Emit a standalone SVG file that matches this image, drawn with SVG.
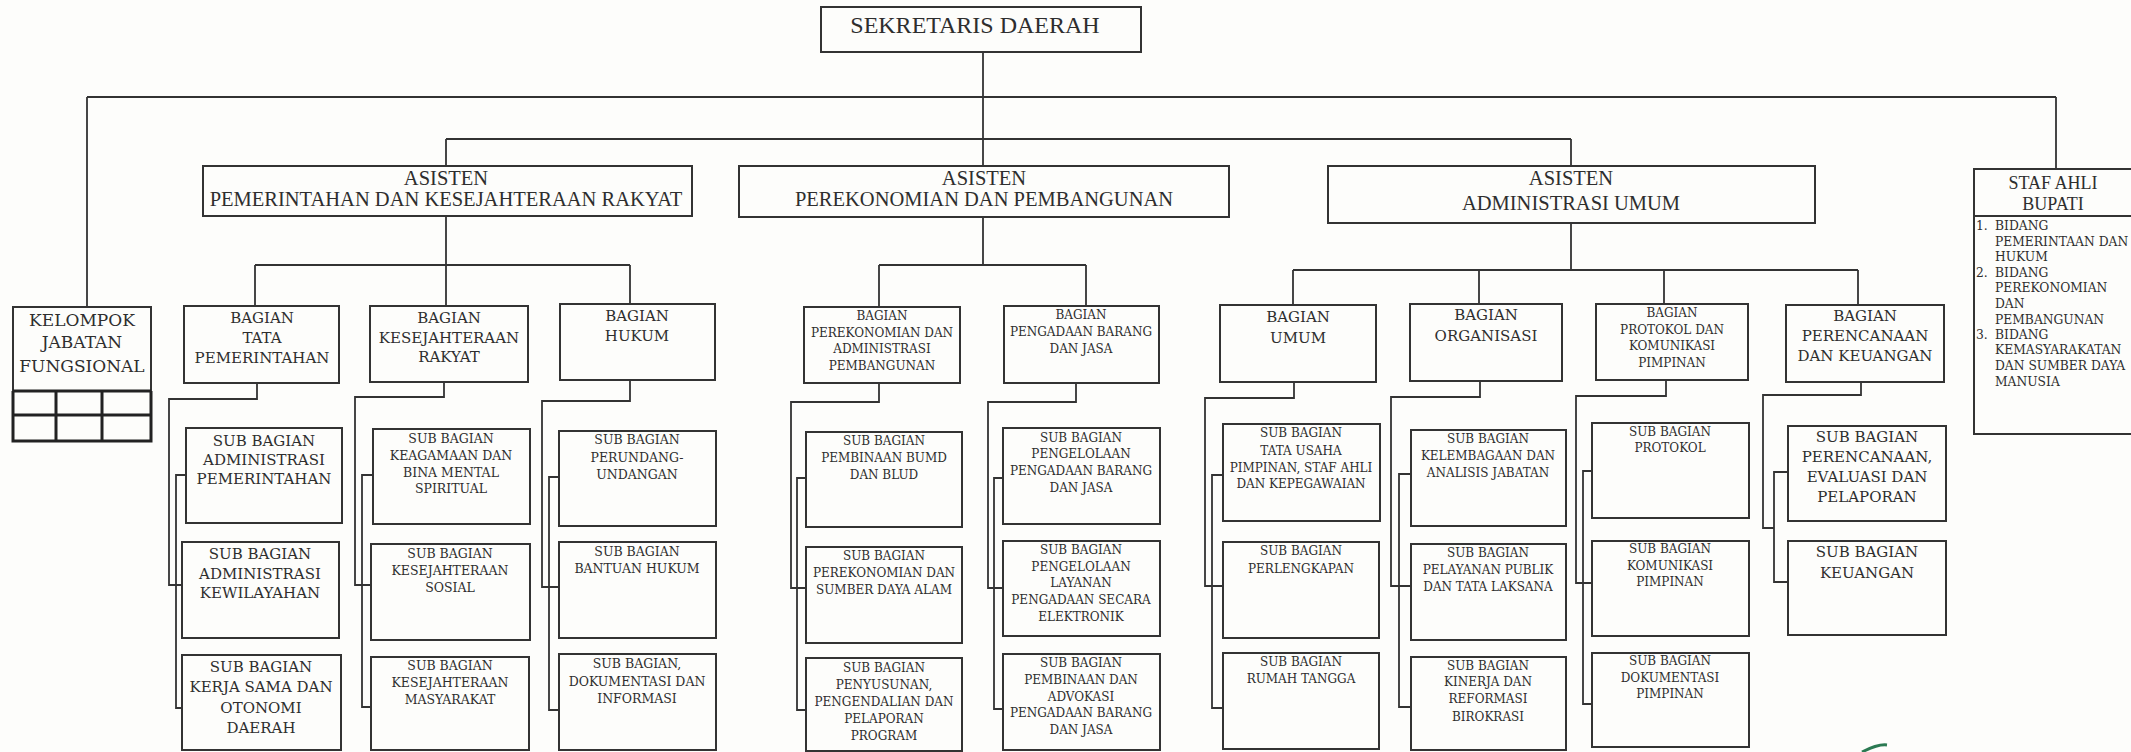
<svg xmlns="http://www.w3.org/2000/svg" width="2131" height="752" viewBox="0 0 2131 752">
<style>
.bg{fill:#fdfdfb}
.box{fill:none;stroke:#333;stroke-width:2}
.thick{fill:none;stroke:#222;stroke-width:3}
.ln{fill:none;stroke:#333;stroke-width:1.8}
text{fill:#2e2e2e;text-anchor:middle}
.h{font-family:"Liberation Serif","Times New Roman",serif}
.s{font-family:"DejaVu Serif","Liberation Serif",serif}
.f20{font-size:20.5px}
.f22{font-size:24px}
.f18{font-size:18px}
.f17{font-size:17px}
.f15{font-size:15px}
.f125{font-size:12.5px}
.f12{font-size:12px}
.f115{font-size:12.3px}
.l{text-anchor:start}
</style>
<rect class="bg" x="0" y="0" width="2131" height="752"/>

<g id="connectors">
<path class="ln" d="M983,52 V166"/>
<path class="ln" d="M87,97 H2056 M87,97 V307 M2056,97 V169"/>
<path class="ln" d="M446,139 H1571 M446,139 V166 M1571,139 V166"/>
<path class="ln" d="M446,216 V306 M255,265 H630 M255,265 V306 M630,265 V304"/>
<path class="ln" d="M983,217 V265 M879,265 H1086 M879,265 V307 M1086,265 V306"/>
<path class="ln" d="M1571,223 V270 M1293,270 H1858 M1293,270 V305 M1479,270 V304 M1664,270 V304 M1858,270 V305"/>
<path class="ln" d="M257,383 V399 H169 V585 H182 M186,475 H176 V708 H182"/>
<path class="ln" d="M444,382 V397 H355 V585 H371 M373,475 H362 V707 H371"/>
<path class="ln" d="M630,380 V401 H542 V587 H559 M559,477 H549 V710 H559"/>
<path class="ln" d="M879,383 V402 H791 V588 H806 M806,478 H797 V710 H806"/>
<path class="ln" d="M1076,383 V402 H988 V588 H1003 M1003,478 H994 V709 H1003"/>
<path class="ln" d="M1294,382 V398 H1205 V586 H1223 M1223,475 H1212 V708 H1223"/>
<path class="ln" d="M1480,381 V397 H1391 V586 H1411 M1411,474 H1399 V707 H1411"/>
<path class="ln" d="M1666,380 V396 H1576 V583 H1592 M1592,471 H1583 V704 H1592"/>
<path class="ln" d="M1861,382 V395 H1763 V528 H1774 M1788,472 H1774 V582 H1788"/>
</g>

<g id="sekda">
<rect class="box" x="821" y="7" width="320" height="45"/>
<text class="h f22" x="975" y="33">SEKRETARIS DAERAH</text>
</g>

<g id="asisten-pemerintahan">
<rect class="box" x="203" y="166" width="489" height="50"/>
<text class="h f20" x="446" y="185">ASISTEN</text>
<text class="h f20" x="446" y="206">PEMERINTAHAN DAN KESEJAHTERAAN RAKYAT</text>
</g>
<g id="asisten-perekonomian">
<rect class="box" x="739" y="166" width="490" height="51"/>
<text class="h f20" x="984" y="185">ASISTEN</text>
<text class="h f20" x="984" y="206">PEREKONOMIAN DAN PEMBANGUNAN</text>
</g>
<g id="asisten-administrasi">
<rect class="box" x="1328" y="166" width="487" height="57"/>
<text class="h f20" x="1571" y="185">ASISTEN</text>
<text class="h f20" x="1571" y="210">ADMINISTRASI UMUM</text>
</g>

<g id="staf-ahli">
<rect class="box" x="1974" y="169" width="170" height="265"/>
<line class="box" x1="1974" y1="216" x2="2144" y2="216"/>
<text class="h f18" x="2053" y="189">STAF AHLI</text>
<text class="h f18" x="2053" y="210">BUPATI</text>
<g class="s f115">
<text class="l" x="1976" y="230">1.</text>
<text class="l" x="1995" y="230">BIDANG</text>
<text class="l" x="1995" y="246">PEMERINTAAN DAN</text>
<text class="l" x="1995" y="261">HUKUM</text>
<text class="l" x="1976" y="277">2.</text>
<text class="l" x="1995" y="277">BIDANG</text>
<text class="l" x="1995" y="292">PEREKONOMIAN</text>
<text class="l" x="1995" y="308">DAN</text>
<text class="l" x="1995" y="324">PEMBANGUNAN</text>
<text class="l" x="1976" y="339">3.</text>
<text class="l" x="1995" y="339">BIDANG</text>
<text class="l" x="1995" y="354">KEMASYARAKATAN</text>
<text class="l" x="1995" y="370">DAN SUMBER DAYA</text>
<text class="l" x="1995" y="386">MANUSIA</text>
</g>
</g>

<g id="kelompok-jabatan-fungsional">
<rect class="box" x="13" y="307" width="138" height="134"/>
<path class="thick" d="M13,391 H151 M13,415 H151 M56,391 V441 M102,391 V441 M13,391 V441 H151 V391"/>
<text class="s f17" x="82" y="326">KELOMPOK</text>
<text class="s f17" x="82" y="348">JABATAN</text>
<text class="s f17" x="82" y="372">FUNGSIONAL</text>
</g>

<g id="bagian-tata-pemerintahan">
<rect class="box" x="184" y="306" width="155" height="77"/>
<text class="s f15" x="262" y="323">BAGIAN</text>
<text class="s f15" x="262" y="343">TATA</text>
<text class="s f15" x="262" y="363">PEMERINTAHAN</text>
</g>
<g id="bagian-kesejahteraan-rakyat">
<rect class="box" x="370" y="306" width="158" height="76"/>
<text class="s f15" x="449" y="323">BAGIAN</text>
<text class="s f15" x="449" y="343">KESEJAHTERAAN</text>
<text class="s f15" x="449" y="362">RAKYAT</text>
</g>
<g id="bagian-hukum">
<rect class="box" x="560" y="304" width="155" height="76"/>
<text class="s f15" x="637" y="321">BAGIAN</text>
<text class="s f15" x="637" y="341">HUKUM</text>
</g>
<g id="bagian-perekonomian">
<rect class="box" x="804" y="307" width="156" height="76"/>
<text class="s f12" x="882" y="320">BAGIAN</text>
<text class="s f12" x="882" y="337">PEREKONOMIAN DAN</text>
<text class="s f12" x="882" y="353">ADMINISTRASI</text>
<text class="s f12" x="882" y="370">PEMBANGUNAN</text>
</g>
<g id="bagian-pengadaan">
<rect class="box" x="1004" y="306" width="155" height="77"/>
<text class="s f12" x="1081" y="319">BAGIAN</text>
<text class="s f12" x="1081" y="336">PENGADAAN BARANG</text>
<text class="s f12" x="1081" y="353">DAN JASA</text>
</g>
<g id="bagian-umum">
<rect class="box" x="1220" y="305" width="156" height="77"/>
<text class="s f15" x="1298" y="322">BAGIAN</text>
<text class="s f15" x="1298" y="343">UMUM</text>
</g>
<g id="bagian-organisasi">
<rect class="box" x="1410" y="304" width="152" height="77"/>
<text class="s f15" x="1486" y="320">BAGIAN</text>
<text class="s f15" x="1486" y="341">ORGANISASI</text>
</g>
<g id="bagian-protokol">
<rect class="box" x="1596" y="304" width="152" height="76"/>
<text class="s f12" x="1672" y="317">BAGIAN</text>
<text class="s f12" x="1672" y="334">PROTOKOL DAN</text>
<text class="s f12" x="1672" y="350">KOMUNIKASI</text>
<text class="s f12" x="1672" y="367">PIMPINAN</text>
</g>
<g id="bagian-perencanaan">
<rect class="box" x="1786" y="305" width="158" height="77"/>
<text class="s f15" x="1865" y="321">BAGIAN</text>
<text class="s f15" x="1865" y="341">PERENCANAAN</text>
<text class="s f15" x="1865" y="361">DAN KEUANGAN</text>
</g>

<g id="sub-adm-pemerintahan">
<rect class="box" x="186" y="428" width="156" height="95"/>
<text class="s f15" x="264" y="446">SUB BAGIAN</text>
<text class="s f15" x="264" y="465">ADMINISTRASI</text>
<text class="s f15" x="264" y="484">PEMERINTAHAN</text>
</g>
<g id="sub-adm-kewilayahan">
<rect class="box" x="182" y="542" width="157" height="96"/>
<text class="s f15" x="260" y="559">SUB BAGIAN</text>
<text class="s f15" x="260" y="579">ADMINISTRASI</text>
<text class="s f15" x="260" y="598">KEWILAYAHAN</text>
</g>
<g id="sub-kerja-sama">
<rect class="box" x="182" y="655" width="159" height="95"/>
<text class="s f15" x="261" y="672">SUB BAGIAN</text>
<text class="s f15" x="261" y="692">KERJA SAMA DAN</text>
<text class="s f15" x="261" y="713">OTONOMI</text>
<text class="s f15" x="261" y="733">DAERAH</text>
</g>

<g id="sub-keagamaan">
<rect class="box" x="373" y="429" width="157" height="95"/>
<text class="s f125" x="451" y="443">SUB BAGIAN</text>
<text class="s f125" x="451" y="460">KEAGAMAAN DAN</text>
<text class="s f125" x="451" y="477">BINA MENTAL</text>
<text class="s f125" x="451" y="493">SPIRITUAL</text>
</g>
<g id="sub-kesejahteraan-sosial">
<rect class="box" x="371" y="544" width="159" height="96"/>
<text class="s f125" x="450" y="558">SUB BAGIAN</text>
<text class="s f125" x="450" y="575">KESEJAHTERAAN</text>
<text class="s f125" x="450" y="592">SOSIAL</text>
</g>
<g id="sub-kesejahteraan-masyarakat">
<rect class="box" x="371" y="657" width="158" height="93"/>
<text class="s f125" x="450" y="670">SUB BAGIAN</text>
<text class="s f125" x="450" y="687">KESEJAHTERAAN</text>
<text class="s f125" x="450" y="704">MASYARAKAT</text>
</g>

<g id="sub-perundang-undangan">
<rect class="box" x="559" y="431" width="157" height="95"/>
<text class="s f125" x="637" y="444">SUB BAGIAN</text>
<text class="s f125" x="637" y="462">PERUNDANG-</text>
<text class="s f125" x="637" y="479">UNDANGAN</text>
</g>
<g id="sub-bantuan-hukum">
<rect class="box" x="559" y="542" width="157" height="96"/>
<text class="s f125" x="637" y="556">SUB BAGIAN</text>
<text class="s f125" x="637" y="573">BANTUAN HUKUM</text>
</g>
<g id="sub-dokumentasi-informasi">
<rect class="box" x="559" y="654" width="157" height="96"/>
<text class="s f125" x="637" y="668">SUB BAGIAN,</text>
<text class="s f125" x="637" y="686">DOKUMENTASI DAN</text>
<text class="s f125" x="637" y="703">INFORMASI</text>
</g>

<g id="sub-pembinaan-bumd">
<rect class="box" x="806" y="432" width="156" height="95"/>
<text class="s f12" x="884" y="445">SUB BAGIAN</text>
<text class="s f12" x="884" y="462">PEMBINAAN BUMD</text>
<text class="s f12" x="884" y="479">DAN BLUD</text>
</g>
<g id="sub-perekonomian-sda">
<rect class="box" x="806" y="547" width="156" height="96"/>
<text class="s f12" x="884" y="560">SUB BAGIAN</text>
<text class="s f12" x="884" y="577">PEREKONOMIAN DAN</text>
<text class="s f12" x="884" y="594">SUMBER DAYA ALAM</text>
</g>
<g id="sub-penyusunan">
<rect class="box" x="806" y="658" width="156" height="93"/>
<text class="s f12" x="884" y="672">SUB BAGIAN</text>
<text class="s f12" x="884" y="689">PENYUSUNAN,</text>
<text class="s f12" x="884" y="706">PENGENDALIAN DAN</text>
<text class="s f12" x="884" y="723">PELAPORAN</text>
<text class="s f12" x="884" y="740">PROGRAM</text>
</g>

<g id="sub-pengelolaan-pengadaan">
<rect class="box" x="1003" y="428" width="157" height="96"/>
<text class="s f12" x="1081" y="442">SUB BAGIAN</text>
<text class="s f12" x="1081" y="458">PENGELOLAAN</text>
<text class="s f12" x="1081" y="475">PENGADAAN BARANG</text>
<text class="s f12" x="1081" y="492">DAN JASA</text>
</g>
<g id="sub-pengelolaan-layanan">
<rect class="box" x="1003" y="541" width="157" height="95"/>
<text class="s f12" x="1081" y="554">SUB BAGIAN</text>
<text class="s f12" x="1081" y="571">PENGELOLAAN</text>
<text class="s f12" x="1081" y="587">LAYANAN</text>
<text class="s f12" x="1081" y="604">PENGADAAN SECARA</text>
<text class="s f12" x="1081" y="621">ELEKTRONIK</text>
</g>
<g id="sub-pembinaan-advokasi">
<rect class="box" x="1003" y="654" width="157" height="96"/>
<text class="s f12" x="1081" y="667">SUB BAGIAN</text>
<text class="s f12" x="1081" y="684">PEMBINAAN DAN</text>
<text class="s f12" x="1081" y="701">ADVOKASI</text>
<text class="s f12" x="1081" y="717">PENGADAAN BARANG</text>
<text class="s f12" x="1081" y="734">DAN JASA</text>
</g>

<g id="sub-tata-usaha">
<rect class="box" x="1223" y="424" width="157" height="97"/>
<text class="s f12" x="1301" y="437">SUB BAGIAN</text>
<text class="s f12" x="1301" y="455">TATA USAHA</text>
<text class="s f12" x="1301" y="472">PIMPINAN, STAF AHLI</text>
<text class="s f12" x="1301" y="488">DAN KEPEGAWAIAN</text>
</g>
<g id="sub-perlengkapan">
<rect class="box" x="1223" y="542" width="156" height="96"/>
<text class="s f12" x="1301" y="555">SUB BAGIAN</text>
<text class="s f12" x="1301" y="573">PERLENGKAPAN</text>
</g>
<g id="sub-rumah-tangga">
<rect class="box" x="1223" y="653" width="156" height="96"/>
<text class="s f12" x="1301" y="666">SUB BAGIAN</text>
<text class="s f12" x="1301" y="683">RUMAH TANGGA</text>
</g>

<g id="sub-kelembagaan">
<rect class="box" x="1411" y="430" width="155" height="96"/>
<text class="s f12" x="1488" y="443">SUB BAGIAN</text>
<text class="s f12" x="1488" y="460">KELEMBAGAAN DAN</text>
<text class="s f12" x="1488" y="477">ANALISIS JABATAN</text>
</g>
<g id="sub-pelayanan-publik">
<rect class="box" x="1411" y="544" width="155" height="96"/>
<text class="s f12" x="1488" y="557">SUB BAGIAN</text>
<text class="s f12" x="1488" y="574">PELAYANAN PUBLIK</text>
<text class="s f12" x="1488" y="591">DAN TATA LAKSANA</text>
</g>
<g id="sub-kinerja">
<rect class="box" x="1411" y="657" width="155" height="93"/>
<text class="s f12" x="1488" y="670">SUB BAGIAN</text>
<text class="s f12" x="1488" y="686">KINERJA DAN</text>
<text class="s f12" x="1488" y="703">REFORMASI</text>
<text class="s f12" x="1488" y="721">BIROKRASI</text>
</g>

<g id="sub-protokol">
<rect class="box" x="1592" y="423" width="157" height="95"/>
<text class="s f12" x="1670" y="436">SUB BAGIAN</text>
<text class="s f12" x="1670" y="452">PROTOKOL</text>
</g>
<g id="sub-komunikasi-pimpinan">
<rect class="box" x="1592" y="541" width="157" height="95"/>
<text class="s f12" x="1670" y="553">SUB BAGIAN</text>
<text class="s f12" x="1670" y="570">KOMUNIKASI</text>
<text class="s f12" x="1670" y="586">PIMPINAN</text>
</g>
<g id="sub-dokumentasi-pimpinan">
<rect class="box" x="1592" y="653" width="157" height="94"/>
<text class="s f12" x="1670" y="665">SUB BAGIAN</text>
<text class="s f12" x="1670" y="682">DOKUMENTASI</text>
<text class="s f12" x="1670" y="698">PIMPINAN</text>
</g>

<g id="sub-perencanaan">
<rect class="box" x="1788" y="426" width="158" height="95"/>
<text class="s f15" x="1867" y="442">SUB BAGIAN</text>
<text class="s f15" x="1867" y="462">PERENCANAAN,</text>
<text class="s f15" x="1867" y="482">EVALUASI DAN</text>
<text class="s f15" x="1867" y="502">PELAPORAN</text>
</g>
<g id="sub-keuangan">
<rect class="box" x="1788" y="541" width="158" height="94"/>
<text class="s f15" x="1867" y="557">SUB BAGIAN</text>
<text class="s f15" x="1867" y="578">KEUANGAN</text>
</g>

<path d="M1862,752 C1870,748 1879,744 1887,745" fill="none" stroke="#2b7a52" stroke-width="3"/>
</svg>
